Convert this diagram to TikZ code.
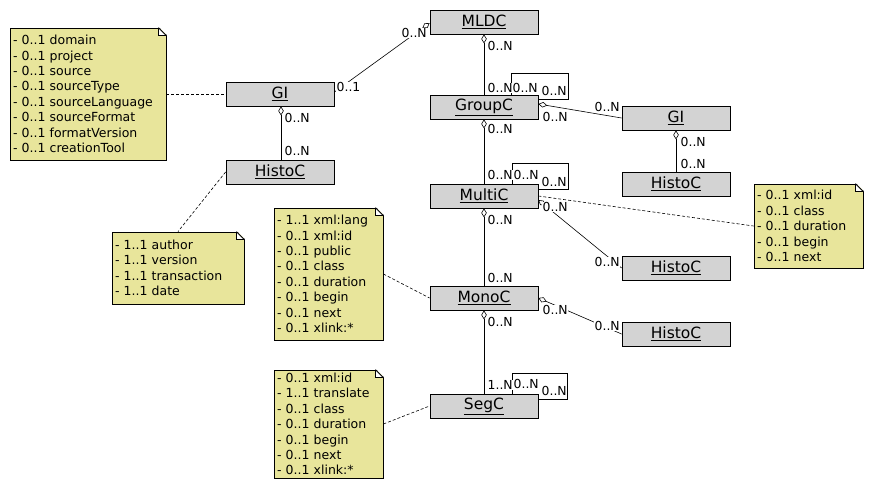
\documentclass[tikz,border=0pt]{standalone}
\usepackage{fontspec}
\setmainfont{DejaVu Sans}
\usetikzlibrary{arrows.meta}
\definecolor{notefill}{RGB}{232,229,155}
\definecolor{boxfill}{RGB}{211,211,211}
\tikzset{
  cls/.style={draw, fill=boxfill, line width=0.8pt, minimum width=108pt, minimum height=24pt, inner sep=0pt, font=\fontsize{15.5}{18}\selectfont},
  notebox/.style={draw, fill=notefill, line width=0.8pt, inner xsep=3pt, inner ysep=0pt, align=left, font=\fontsize{12.5}{15.4}\selectfont},
  lab/.style={inner xsep=0.5pt, inner ysep=0.5pt, fill=white, anchor=west, font=\fontsize{12.4}{14}\selectfont},
  aggr/.style={line width=0.6pt, {Diamond[fill=white,length=9pt,width=5.5pt]}-},
  aggrend/.style={line width=0.6pt, -{Diamond[fill=white,length=9pt,width=5.5pt]}},
  link/.style={line width=0.6pt},
  dashlink/.style={line width=0.6pt, dash pattern=on 3pt off 2pt},
}
\newcommand\notefold[1]{%
  \fill[white] ([xshift=-8pt,yshift=1pt]#1.north east) -- ([xshift=1pt,yshift=1pt]#1.north east) -- ([xshift=1pt,yshift=-8pt]#1.north east) -- cycle;
  \draw[line width=0.6pt, fill=white] ([xshift=-8pt]#1.north east) -- ([xshift=-8pt,yshift=-8pt]#1.north east) -- ([yshift=-8pt]#1.north east);
  \draw[line width=0.8pt] ([xshift=-8pt]#1.north east) -- ([yshift=-8pt]#1.north east);
}
\begin{document}
\begin{tikzpicture}[x=1pt, y=-1pt]
\useasboundingbox (0,0) rectangle (872,488);

% classes
\node[cls] (mldc) at (484,22) {\underline{MLDC}};
\node[cls] (groupc) at (484,107) {\underline{GroupC}};
\node[cls] (multic) at (484,196) {\underline{MultiC}};
\node[cls] (monoc) at (484,298) {\underline{MonoC}};
\node[cls] (segc) at (484,406) {\underline{SegC}};
\node[cls] (gil) at (280,94) {\underline{GI}};
\node[cls] (histol) at (280,172) {\underline{HistoC}};
\node[cls] (gir) at (676,118) {\underline{GI}};
\node[cls] (histo1) at (676,184) {\underline{HistoC}};
\node[cls] (histo2) at (676,268) {\underline{HistoC}};
\node[cls] (histo3) at (676,334) {\underline{HistoC}};

% notes
\node[notebox, text width=150pt, minimum height=132pt] (n1) at (88,94) {- 0..1 domain\\- 0..1 project\\- 0..1 source\\- 0..1 sourceType\\- 0..1 sourceLanguage\\- 0..1 sourceFormat\\- 0..1 formatVersion\\- 0..1 creationTool};
\node[notebox, text width=126pt, minimum height=72pt] (n2) at (178,268) {- 1..1 author\\- 1..1 version\\- 1..1 transaction\\- 1..1 date};
\node[notebox, text width=103pt, minimum height=132pt] (n3) at (328.5,274) {- 1..1 xml:lang\\- 0..1 xml:id\\- 0..1 public\\- 0..1 class\\- 0..1 duration\\- 0..1 begin\\- 0..1 next\\- 0..1 xlink:*};
\node[notebox, text width=103pt, minimum height=84pt] (n4) at (808.5,226) {- 0..1 xml:id\\- 0..1 class\\- 0..1 duration\\- 0..1 begin\\- 0..1 next};
\node[notebox, text width=103pt, minimum height=108pt] (n5) at (328.5,424) {- 0..1 xml:id\\- 1..1 translate\\- 0..1 class\\- 0..1 duration\\- 0..1 begin\\- 0..1 next\\- 0..1 xlink:*};
\notefold{n1}
\notefold{n2}
\notefold{n3}
\notefold{n4}
\notefold{n5}

% aggregations
\draw[aggrend] ([yshift=2pt]gil.east) -- ([yshift=-1pt]mldc.west);
\draw[aggr] ([xshift=1pt]gil.south) -- ([xshift=1pt]histol.north);
\draw[aggr] (mldc.south) -- (groupc.north);
\draw[aggr] (groupc.south) -- (multic.north);
\draw[aggr] (multic.south) -- (monoc.north);
\draw[aggr] (monoc.south) -- (segc.north);
\draw[aggr] (gir.south) -- (histo1.north);
\draw[aggr] ([yshift=3pt]groupc.east) -- (gir.west);
\draw[aggr] ([yshift=-4pt]multic.east) -- (histo2.west);
\draw[aggr] (monoc.east) -- (histo3.west);

% self loops
\draw[link] ([xshift=27pt]groupc.north) |- ([xshift=30pt,yshift=21pt]groupc.north east) |- ([yshift=8pt]groupc.east);
\draw[link] ([xshift=28pt]multic.north) |- ([xshift=30pt,yshift=20pt]multic.north east) |- ([yshift=7pt]multic.east);
\draw[link] ([xshift=28pt]segc.north) |- ([xshift=29pt,yshift=20pt]segc.north east) |- ([yshift=7pt]segc.east);

% note links
\draw[dashlink] (n1.east) -- (gil.west);
\draw[dashlink] (histol.west) -- (n2.north);
\draw[dashlink] (multic.east) -- (n4.west);
\draw[dashlink] (n3.east) -- (monoc.west);
\draw[dashlink] (n5.east) -- (segc.west);

% multiplicities
\node[lab] (l1) at (284,118) {0..N};
\node[lab] (l2) at (284,151) {0..N};
\node[lab] (l3) at (336,87) {0..1};
\node[lab] (l4) at (401,33) {0..N};
\node[lab] (l5) at (487,46) {0..N};
\node[lab] (l6) at (487,88) {0..N};
\node[lab] (l7) at (512,88) {0..N};
\node[lab] (l8) at (541,91) {0..N};
\node[lab] (l9) at (542,117) {0..N};
\node[lab] (l10) at (594,107) {0..N};
\node[lab] (l11) at (680,142) {0..N};
\node[lab] (l12) at (680,164) {0..N};
\node[lab] (l13) at (487,129) {0..N};
\node[lab] (l14) at (487,175) {0..N};
\node[lab] (l15) at (513,175) {0..N};
\node[lab] (l16) at (541,182) {0..N};
\node[lab] (l17) at (542,207) {0..N};
\node[lab] (l18) at (594,262) {0..N};
\node[lab] (l19) at (487,220) {0..N};
\node[lab] (l20) at (487,278) {0..N};
\node[lab] (l21) at (542,310) {0..N};
\node[lab] (l22) at (594,326) {0..N};
\node[lab] (l23) at (487,322) {0..N};
\node[lab] (l24) at (487,385) {1..N};
\node[lab] (l25) at (513,384) {0..N};
\node[lab] (l26) at (541,391) {0..N};
\end{tikzpicture}
\end{document}
